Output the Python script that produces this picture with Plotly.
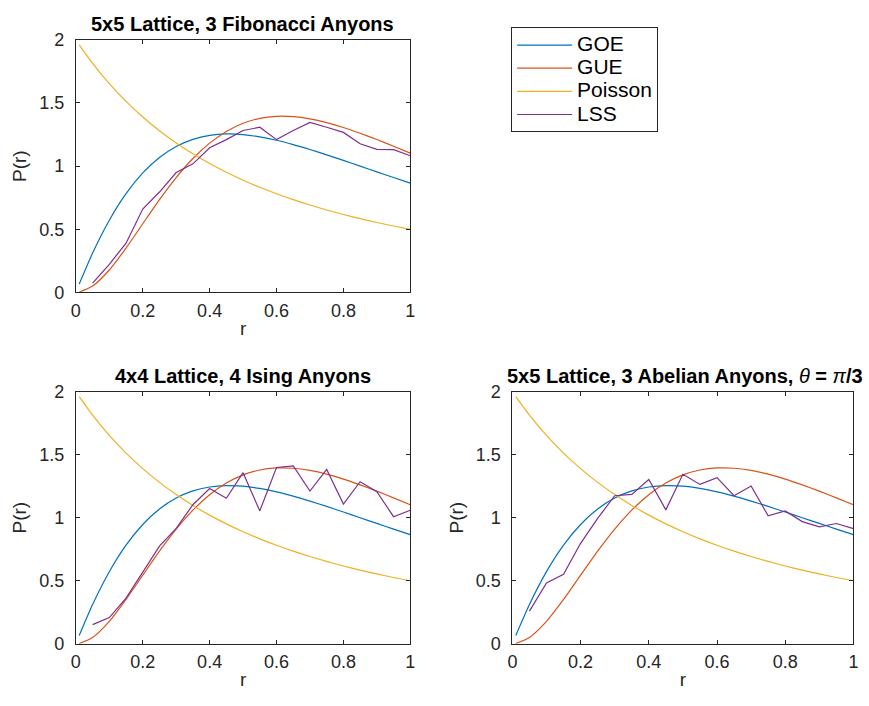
import plotly.graph_objects as go

# Theoretical curves sampled at r values
r_theory = [0.01, 0.05, 0.1, 0.15, 0.2, 0.25, 0.3, 0.35, 0.4, 0.45, 0.5,
            0.55, 0.6, 0.65, 0.7, 0.75, 0.8, 0.85, 0.9, 0.95, 1.0]
goe = [0.0665, 0.3118, 0.5720, 0.7821, 0.9462, 1.0689, 1.1557, 1.2122, 1.2436, 1.2547, 1.2496,
       1.2319, 1.2048, 1.1707, 1.1317, 1.0894, 1.0452, 1.0000, 0.9546, 0.9099, 0.8660]
gue = [0.0022, 0.0502, 0.1780, 0.3516, 0.5440, 0.7348, 0.9098, 1.0603, 1.1823, 1.2748, 1.3392,
       1.3781, 1.3944, 1.3922, 1.3746, 1.3449, 1.3061, 1.2603, 1.2105, 1.1572, 1.1027]
poisson = [1.9606, 1.8141, 1.6529, 1.5123, 1.3889, 1.2800, 1.1834, 1.0974, 1.0204, 0.9512, 0.8889,
           0.8325, 0.7813, 0.7346, 0.6920, 0.6531, 0.6173, 0.5844, 0.5540, 0.5260, 0.5000]

# Level spacing statistics (LSS) data
r_lss = [0.05, 0.1, 0.15, 0.2, 0.25, 0.3, 0.35, 0.4, 0.45, 0.5,
         0.55, 0.6, 0.65, 0.7, 0.75, 0.8, 0.85, 0.9, 0.95, 1.0]
lss_fib = [0.074, 0.223, 0.39, 0.66, 0.795, 0.949, 1.018, 1.146, 1.21, 1.282,
           1.308, 1.21, 1.282, 1.346, 1.308, 1.267, 1.177, 1.133, 1.131, 1.082]
lss_ising = [0.152, 0.208, 0.362, 0.568, 0.774, 0.915, 1.103, 1.231, 1.154, 1.357,
             1.054, 1.398, 1.411, 1.211, 1.383, 1.108, 1.285, 1.206, 1.008, 1.059]
lss_abel = [0.259, 0.482, 0.551, 0.797, 0.995, 1.174, 1.185, 1.303, 1.062, 1.344,
            1.264, 1.318, 1.174, 1.251, 1.015, 1.054, 0.969, 0.928, 0.954, 0.913]

titles = ["<b>5x5 Lattice, 3 Fibonacci Anyons</b>",
          "<b>4x4 Lattice, 4 Ising Anyons</b>",
          "<b>5x5 Lattice, 3 Abelian Anyons, </b><i>θ</i><b> = </b><i>π</i><b>/3</b>"]
series_names = ["GOE", "GUE", "Poisson", "LSS"]
colors = ["#0072BD", "#D95319", "#EDB120", "#7E2F8E"]
x_ticks = [0, 0.2, 0.4, 0.6, 0.8, 1]
x_tick_text = ["0", "0.2", "0.4", "0.6", "0.8", "1"]
y_ticks = [0, 0.5, 1, 1.5, 2]
y_tick_text = ["0", "0.5", "1", "1.5", "2"]

W, H = 869, 706
FONT = "Liberation Sans, Arial, Helvetica, sans-serif"
AX_COL = "#262626"

def legend_label(s):
    return '<span style="font-size:21px">' + s + '</span>'

fig = go.Figure()

panels = [
    ("x", "y", lss_fib, True),
    ("x2", "y2", lss_ising, False),
    ("x3", "y3", lss_abel, False),
]
for xa, ya, lss, show in panels:
    for name, col, ys in zip(series_names[:3], colors[:3], [goe, gue, poisson]):
        fig.add_trace(go.Scatter(x=r_theory, y=ys, mode="lines", name=legend_label(name),
                                 line=dict(color=col, width=1.2, shape="spline", smoothing=0.6),
                                 xaxis=xa, yaxis=ya, showlegend=show))
    fig.add_trace(go.Scatter(x=r_lss, y=lss, mode="lines", name=legend_label(series_names[3]),
                             line=dict(color=colors[3], width=1.2),
                             xaxis=xa, yaxis=ya, showlegend=show))

def px_x(p):
    return p / W

def px_y(p):
    return 1 - p / H

dom = {
    "1": ([px_x(71.7), px_x(410)], [px_y(290.7), px_y(30.7)]),
    "2": ([px_x(71.7), px_x(410)], [px_y(652.3), px_y(392.7)]),
    "3": ([px_x(513.3), px_x(858.3)], [px_y(652.3), px_y(392.7)]),
}

axis_common = dict(showline=True, linecolor=AX_COL, linewidth=1, mirror="ticks",
                   ticks="inside", ticklen=4, tickcolor=AX_COL, showgrid=False,
                   zeroline=False, tickfont=dict(family=FONT, size=18, color=AX_COL))

layout = dict(width=W, height=H, margin=dict(l=0, r=0, t=0, b=0),
              paper_bgcolor="white", plot_bgcolor="white",
              font=dict(family=FONT, color=AX_COL),
              legend=dict(x=px_x(512), y=px_y(18), xanchor="left", yanchor="top",
                          bordercolor=AX_COL, borderwidth=1, bgcolor="white",
                          font=dict(family=FONT, size=15.5, color="black"),
                          tracegroupgap=0, itemwidth=55))
for i, key in enumerate(["1", "2", "3"]):
    sfx = "" if key == "1" else key
    xd, yd = dom[key]
    layout["xaxis" + sfx] = dict(domain=xd, range=[0, 1], tickvals=x_ticks, ticktext=x_tick_text,
                                 anchor="y" + sfx, ticklabelstandoff=2,
                                 title=dict(text="r", font=dict(family=FONT, size=19, color=AX_COL),
                                            standoff=1),
                                 **axis_common)
    layout["yaxis" + sfx] = dict(domain=yd, range=[0, 2], tickvals=y_ticks, ticktext=y_tick_text,
                                 anchor="x" + sfx, ticklabelstandoff=7,
                                 title=dict(text="P(r)", font=dict(family=FONT, size=19, color=AX_COL),
                                            standoff=7),
                                 **axis_common)

fig.update_layout(**layout)

title_pos = [(240.5, 14), (240.5, 377), (688, 377)]
for t, (cx, cy) in zip(titles, title_pos):
    fig.add_annotation(text=t, x=px_x(cx), y=px_y(cy), xref="paper", yref="paper",
                       xanchor="center", yanchor="middle", showarrow=False,
                       font=dict(family=FONT, size=20, color="black"))

fig.write_html("out.html")
